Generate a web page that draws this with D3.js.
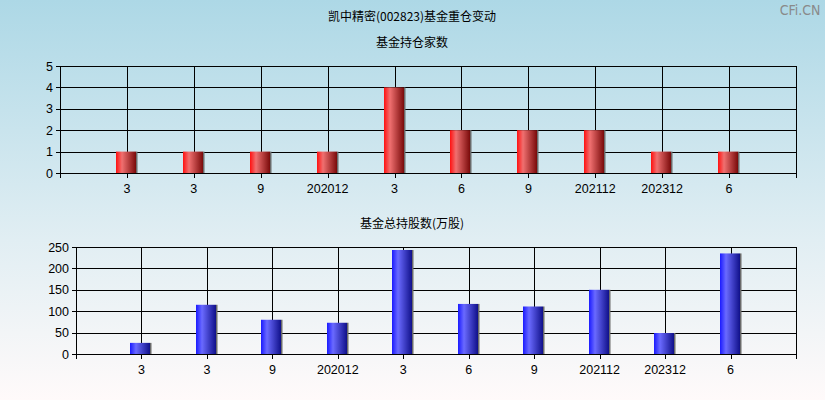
<!DOCTYPE html>
<html>
<head>
<meta charset="utf-8">
<script src="https://cdn.jsdelivr.net/npm/d3@7"></script>
<style>
  body { margin: 0; }
  svg { display: block; }
  text { font-family: "Liberation Sans", Arial, sans-serif; }
</style>
</head>
<body>
<div id="chart"></div>
<script>
// Data
const categories = ["3", "3", "9", "202012", "3", "6", "9", "202112", "202312", "6"];
const fundCounts = [1, 1, 1, 1, 4, 2, 2, 2, 1, 1];
const totalShares = [26, 115, 80, 73, 243, 117, 111, 150, 49, 235];
const countTicks = [0, 1, 2, 3, 4, 5];
const shareTicks = [0, 50, 100, 150, 200, 250];

const width = 825;
const height = 400;

const svg = d3.select("#chart")
  .append("svg")
  .attr("width", width)
  .attr("height", height);

const defs = svg.append("defs");

// background gradient
const bg = defs.append("linearGradient")
  .attr("id", "bg").attr("x1", 0).attr("y1", 0).attr("x2", 0).attr("y2", 1);
bg.append("stop").attr("offset", "0%").attr("stop-color", "#add8e6");
bg.append("stop").attr("offset", "60%").attr("stop-color", "#e1eef3");
bg.append("stop").attr("offset", "100%").attr("stop-color", "#fffafa");

// bar gradients
function barGradient(id, c0, c1, c2) {
  const g = defs.append("linearGradient")
    .attr("id", id).attr("x1", 0).attr("y1", 0).attr("x2", 1).attr("y2", 0);
  g.append("stop").attr("offset", "0%").attr("stop-color", c0);
  g.append("stop").attr("offset", "30%").attr("stop-color", c1);
  g.append("stop").attr("offset", "100%").attr("stop-color", c2);
}
barGradient("redBar", "#ff1010", "#f07070", "#7a0a0a");
barGradient("blueBar", "#1a1aff", "#6a6aff", "#10108a");

svg.append("rect")
  .attr("width", width).attr("height", height)
  .attr("fill", "url(#bg)");

// titles
svg.append("text")
  .attr("x", 412).attr("y", 21)
  .attr("text-anchor", "middle")
  .attr("font-size", "12px")
  .style("font-family", "'Noto Sans CJK SC', sans-serif")
  .text("凯中精密(002823)基金重仓变动");

svg.append("text")
  .attr("x", 800).attr("y", 15)
  .attr("text-anchor", "middle")
  .attr("font-size", "14px")
  .attr("fill", "#8a8a8a")
  .style("font-family", "'DejaVu Sans Condensed', 'Liberation Sans Narrow', sans-serif")
  .text("CFi.CN");

function drawPanel(opts) {
  const { left, right, top, bottom, values, ticks, maxY, fill, title, titleY } = opts;

  const g = svg.append("g");

  g.append("text")
    .attr("x", 412).attr("y", titleY)
    .attr("text-anchor", "middle")
    .attr("font-size", "12px")
    .style("font-family", "'Noto Sans CJK SC', sans-serif")
    .text(title);

  const xScale = d3.scaleLinear()
    .domain([0, categories.length + 1])
    .range([left, right]);

  const yScale = d3.scaleLinear()
    .domain([0, maxY])
    .range([bottom, top]);

  // horizontal grid + y ticks
  g.selectAll(".hgrid")
    .data(ticks)
    .enter()
    .append("line")
      .attr("x1", left - 4)
      .attr("x2", right)
      .attr("y1", d => Math.round(yScale(d)) + 0.5)
      .attr("y2", d => Math.round(yScale(d)) + 0.5)
      .attr("stroke", "#000")
      .attr("stroke-width", 1);

  g.selectAll(".ylab")
    .data(ticks)
    .enter()
    .append("text")
      .attr("x", left - 7)
      .attr("y", d => yScale(d) + 4.5)
      .attr("text-anchor", "end")
      .attr("font-size", "12.5px")
      .text(d => d);

  // vertical grid at categories + borders
  const vlines = [0].concat(categories.map((c, i) => i + 1), [categories.length + 1]);
  g.selectAll(".vgrid")
    .data(vlines)
    .enter()
    .append("line")
      .attr("x1", d => Math.round(xScale(d)) + 0.5)
      .attr("x2", d => Math.round(xScale(d)) + 0.5)
      .attr("y1", top)
      .attr("y2", bottom + 5)
      .attr("stroke", "#000")
      .attr("stroke-width", 1);

  // x labels
  g.selectAll(".xlab")
    .data(categories)
    .enter()
    .append("text")
      .attr("x", (d, i) => xScale(i + 1))
      .attr("y", bottom + 20)
      .attr("text-anchor", "middle")
      .attr("font-size", "12.5px")
      .text(d => d);

  // bars: shadow strip then body
  const barW = 20;
  g.selectAll(".shadow")
    .data(values)
    .enter()
    .append("rect")
      .attr("x", (d, i) => Math.round(xScale(i + 1)) - 11 + barW)
      .attr("y", d => yScale(d))
      .attr("width", 1.5)
      .attr("height", d => bottom - yScale(d))
      .attr("fill", "#6a6a6a");

  g.selectAll(".bar")
    .data(values)
    .enter()
    .append("rect")
      .attr("x", (d, i) => Math.round(xScale(i + 1)) - 11)
      .attr("y", d => yScale(d))
      .attr("width", barW)
      .attr("height", d => bottom - yScale(d))
      .attr("fill", fill);
}

drawPanel({
  left: 60, right: 796, top: 66, bottom: 173,
  values: fundCounts, ticks: countTicks, maxY: 5,
  fill: "url(#redBar)", title: "基金持仓家数", titleY: 47
});

drawPanel({
  left: 76, right: 796, top: 247, bottom: 354,
  values: totalShares, ticks: shareTicks, maxY: 250,
  fill: "url(#blueBar)", title: "基金总持股数(万股)", titleY: 228
});
</script>
</body>
</html>
